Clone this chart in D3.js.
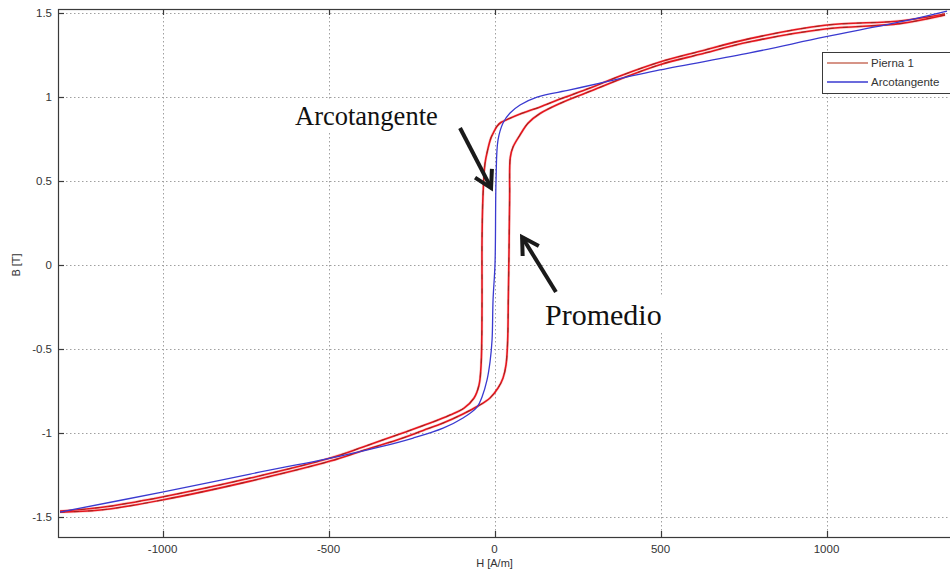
<!DOCTYPE html>
<html>
<head>
<meta charset="utf-8">
<script src="https://cdn.jsdelivr.net/npm/d3@7/dist/d3.min.js"></script>
<style>
  html, body { margin: 0; padding: 0; background: #fff; }
  svg { display: block; }
</style>
</head>
<body>
<svg id="chart" width="950" height="571"></svg>
<script>
// Axis ticks
const xTicks = [-1000, -500, 0, 500, 1000];
const xTickLabels = ["-1000", "-500", "0", "500", "1000"];
const yTicks = [-1.5, -1, -0.5, 0, 0.5, 1, 1.5];
const yTickLabels = ["-1.5", "-1", "-0.5", "0", "0.5", "1", "1.5"];
const xLimits = [-1315, 1378];
const yLimits = [-1.616, 1.521];

// Pierna 1 — descending branch (H in A/m, B in T)
const descH = [1357, 1221, 995, 769, 619, 498, 378, 288, 197, 137, 77, 35, 20, 7.5, -1, -10.5, -20, -29, -35, -37.7, -37.7, -38.5, -40.7, -46.7, -61.7, -91.9, -134, -194, -294, -396, -495, -736, -1001, -1188, -1309];
const descB = [1.491, 1.450, 1.424, 1.345, 1.270, 1.206, 1.123, 1.052, 0.986, 0.939, 0.897, 0.862, 0.848, 0.825, 0.795, 0.757, 0.690, 0.600, 0.400, 0.150, -0.200, -0.450, -0.600, -0.713, -0.790, -0.850, -0.891, -0.939, -1.010, -1.081, -1.147, -1.266, -1.378, -1.441, -1.462];

// Pierna 1 — ascending branch
const ascH = [-1309, -1188, -1001, -736, -495, -396, -294, -215, -155, -95, -49.7, -13.6, 10.5, 25.6, 34.6, 39.5, 41.5, 43.7, 45.5, 47.5, 55.7, 76.8, 101, 137, 197, 288, 378, 498, 619, 769, 995, 1221, 1357];
const ascB = [-1.468, -1.456, -1.396, -1.284, -1.165, -1.102, -1.040, -0.983, -0.939, -0.885, -0.838, -0.790, -0.731, -0.671, -0.594, -0.450, -0.200, 0.100, 0.400, 0.640, 0.701, 0.773, 0.843, 0.900, 0.960, 1.032, 1.104, 1.190, 1.252, 1.326, 1.402, 1.434, 1.485];

// Arcotangente fit
const atanH = [-1309, -1001, -736, -465, -345, -245, -155, -95, -52.7, -37.7, -22.6, -13.6, -7.5, -4.5, 1.5, 4.5, 10.5, 25.6, 46.7, 76.8, 128, 227, 318, 498, 769, 995, 1221, 1363];
const atanB = [-1.468, -1.349, -1.242, -1.135, -1.081, -1.028, -0.969, -0.909, -0.844, -0.784, -0.683, -0.576, -0.446, -0.208, 0.012, 0.505, 0.743, 0.844, 0.903, 0.951, 0.998, 1.040, 1.081, 1.159, 1.260, 1.355, 1.444, 1.509];

// Annotations: text anchor (H, B) and arrow from (H, B) to tip (H, B)
const noteLabels = ["Arcotangente", "Promedio"];
const noteTextH = [-601, 152];
const noteTextB = [0.832, -0.357];
const noteFontSize = [26.5, 30];
const arrowFromH = [-104, 185];
const arrowFromB = [0.814, -0.160];
const arrowToH = [-10.5, 83];
const arrowToB = [0.458, 0.166];

const legendNames = ["Pierna 1", "Arcotangente"];
const legendColors = ["#c9705f", "#3a3ad0"];

const svg = d3.select("#chart");
const margin = { left: 58, top: 9, right: -2, bottom: 34 };
const W = 950, H = 571;
const x = d3.scaleLinear().domain(xLimits).range([margin.left, W - margin.right]);
const y = d3.scaleLinear().domain(yLimits).range([H - margin.bottom, margin.top]);

const axisColor = "#3a3a3a";
const font = "'Liberation Sans', Arial, sans-serif";

svg.append("defs").append("clipPath").attr("id", "plotClip")
  .append("rect")
  .attr("x", x.range()[0]).attr("y", y.range()[1])
  .attr("width", x.range()[1] - x.range()[0])
  .attr("height", y.range()[0] - y.range()[1]);

// Grid
const grid = svg.append("g").attr("stroke", "#a0a0a0").attr("stroke-width", 1)
  .attr("stroke-dasharray", "1.5,2.5").attr("fill", "none");
grid.selectAll("line.gx").data(xTicks).join("line").attr("class", "gx")
  .attr("x1", d => Math.round(x(d)) + 0.5).attr("x2", d => Math.round(x(d)) + 0.5)
  .attr("y1", y.range()[1]).attr("y2", y.range()[0]);
grid.selectAll("line.gy").data(yTicks).join("line").attr("class", "gy")
  .attr("y1", d => Math.round(y(d)) + 0.5).attr("y2", d => Math.round(y(d)) + 0.5)
  .attr("x1", x.range()[0]).attr("x2", x.range()[1]);

// White boxes behind annotation text
const noteG = svg.append("g");
noteLabels.forEach((t, i) => {
  const txt = noteG.append("text")
    .attr("x", x(noteTextH[i])).attr("y", y(noteTextB[i]))
    .attr("font-family", "'Liberation Serif', 'Times New Roman', serif")
    .attr("font-size", noteFontSize[i]).attr("fill", "#111").text(t);
  const bb = txt.node().getBBox();
  noteG.insert("rect", "text")
    .attr("x", bb.x - 4).attr("y", bb.y - 1)
    .attr("width", bb.width + 8).attr("height", bb.height + 2)
    .attr("fill", "#fff");
});

// Curves
const plot = svg.append("g").attr("clip-path", "url(#plotClip)");
const line = d3.line().x(d => x(d[0])).y(d => y(d[1])).curve(d3.curveCatmullRom.alpha(0.5));
const desc = descH.map((h, i) => [h, descB[i]]);
const asc = ascH.map((h, i) => [h, ascB[i]]);
const fit = atanH.map((h, i) => [h, atanB[i]]);

[desc, asc].forEach(pts => {
  plot.append("path").datum(pts).attr("d", line)
    .attr("fill", "none").attr("stroke", "#f07070").attr("stroke-width", 2.8).attr("stroke-opacity", 0.3);
  plot.append("path").datum(pts).attr("d", line)
    .attr("fill", "none").attr("stroke", "#e3161e").attr("stroke-width", 1.6);
  plot.append("path").datum(pts).attr("d", line)
    .attr("fill", "none").attr("stroke", "#7c2a1c").attr("stroke-width", 0.9)
    .attr("stroke-dasharray", "5,9").attr("stroke-opacity", 0.7);
});
plot.append("path").datum(fit).attr("d", line)
  .attr("fill", "none").attr("stroke", "#3a3ad0").attr("stroke-width", 1.3);

// Frame and ticks
const frame = svg.append("g").attr("stroke", axisColor).attr("stroke-width", 1.2).attr("fill", "none");
frame.append("rect")
  .attr("x", x.range()[0] + 0.5).attr("y", y.range()[1] + 0.5)
  .attr("width", x.range()[1] - x.range()[0]).attr("height", y.range()[0] - y.range()[1]);
const tl = 6;
xTicks.forEach(d => {
  const px = Math.round(x(d)) + 0.5;
  frame.append("line").attr("x1", px).attr("x2", px).attr("y1", y.range()[0]).attr("y2", y.range()[0] - tl);
  frame.append("line").attr("x1", px).attr("x2", px).attr("y1", y.range()[1]).attr("y2", y.range()[1] + tl);
});
yTicks.forEach(d => {
  const py = Math.round(y(d)) + 0.5;
  frame.append("line").attr("y1", py).attr("y2", py).attr("x1", x.range()[0]).attr("x2", x.range()[0] + tl);
});

// Tick labels
svg.append("g").selectAll("text").data(xTicks).join("text")
  .attr("x", d => x(d)).attr("y", y.range()[0] + 16)
  .attr("text-anchor", "middle").attr("font-family", font).attr("font-size", 11.5)
  .attr("fill", "#333").text((d, i) => xTickLabels[i]);
svg.append("g").selectAll("text").data(yTicks).join("text")
  .attr("x", x.range()[0] - 6).attr("y", d => y(d) + 4)
  .attr("text-anchor", "end").attr("font-family", font).attr("font-size", 11.5)
  .attr("fill", "#333").text((d, i) => yTickLabels[i]);

// Axis titles
svg.append("text").attr("x", x(0)).attr("y", y.range()[0] + 30)
  .attr("text-anchor", "middle").attr("font-family", font).attr("font-size", 11)
  .attr("fill", "#333").text("H [A/m]");
svg.append("text").attr("transform", `translate(20,${y(0)}) rotate(-90)`)
  .attr("text-anchor", "middle").attr("font-family", font).attr("font-size", 11)
  .attr("fill", "#333").text("B [T]");

// Annotation arrows
const arrowG = svg.append("g").attr("stroke", "#1a1a1a").attr("stroke-width", 4)
  .attr("stroke-linecap", "butt").attr("fill", "none");
arrowFromH.forEach((h, i) => {
  const x0 = x(h), y0 = y(arrowFromB[i]);
  const x1 = x(arrowToH[i]), y1 = y(arrowToB[i]);
  const ang = Math.atan2(y1 - y0, x1 - x0);
  const hl = 19, spread = Math.PI / 6;
  arrowG.append("line").attr("x1", x0).attr("y1", y0).attr("x2", x1).attr("y2", y1);
  arrowG.append("path")
    .attr("stroke-linejoin", "miter")
    .attr("d", `M${x1 - hl * Math.cos(ang - spread)},${y1 - hl * Math.sin(ang - spread)}` +
               `L${x1},${y1}` +
               `L${x1 - hl * Math.cos(ang + spread)},${y1 - hl * Math.sin(ang + spread)}`);
});

// Legend
const lg = svg.append("g");
lg.append("rect").attr("x", 822.5).attr("y", 52.5).attr("width", 140).attr("height", 41)
  .attr("fill", "#fff").attr("stroke", axisColor).attr("stroke-width", 1);
legendNames.forEach((n, i) => {
  const ly = 63 + i * 19;
  lg.append("line").attr("x1", 827).attr("x2", 868).attr("y1", ly).attr("y2", ly)
    .attr("stroke", legendColors[i]).attr("stroke-width", 1.5);
  lg.append("text").attr("x", 871).attr("y", ly + 4).attr("font-family", font)
    .attr("font-size", 11.5).attr("fill", "#333").text(n);
});
</script>
</body>
</html>
